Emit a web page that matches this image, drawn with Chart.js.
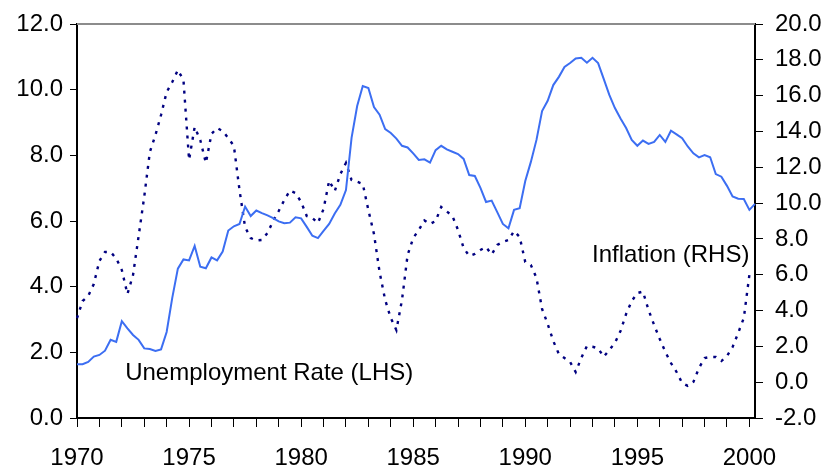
<!DOCTYPE html>
<html><head><meta charset="utf-8">
<script src="https://cdn.jsdelivr.net/npm/chart.js@4"></script>
<style>html,body{margin:0;padding:0;background:#fff}canvas{display:block}</style>
</head><body>
<canvas id="c" width="821" height="466"></canvas>
<script>
// Quarterly categories 1970Q1 .. 2000Q2
const quarters = [];
for (let y = 1970; y <= 2000; y++) for (let q = 1; q <= 4; q++) { if (y === 2000 && q > 2) break; quarters.push(y + 'Q' + q); }

const unemployment = [
1.64,1.64,1.71,1.87,1.92,2.05,2.38,2.32,2.95,2.73,
2.53,2.38,2.12,2.10,2.04,2.09,2.62,3.66,4.55,4.83,
4.80,5.24,4.61,4.56,4.89,4.80,5.07,5.71,5.84,5.91,
6.44,6.15,6.32,6.24,6.17,6.09,5.99,5.93,5.95,6.11,
6.08,5.82,5.55,5.48,5.70,5.91,6.23,6.49,6.94,8.53,
9.50,10.11,10.05,9.47,9.24,8.80,8.68,8.51,8.29,8.24,
8.06,7.86,7.88,7.78,8.16,8.29,8.18,8.11,8.04,7.89,
7.40,7.37,7.01,6.58,6.62,6.27,5.91,5.78,6.34,6.39,
7.22,7.80,8.47,9.35,9.66,10.14,10.39,10.69,10.81,10.95,
10.97,10.82,10.97,10.81,10.33,9.84,9.44,9.12,8.83,8.47,
8.29,8.45,8.35,8.41,8.62,8.41,8.75,8.64,8.52,8.27,
8.06,7.94,8.01,7.94,7.43,7.35,7.07,6.75,6.68,6.67,
6.34,6.52];

const inflation = [
3.57,4.53,4.81,5.48,6.77,7.27,7.27,6.91,6.26,4.92,
5.98,8.16,10.36,12.85,13.80,14.92,16.20,16.76,17.43,16.87,
12.41,14.25,13.52,12.24,13.86,14.19,14.02,13.63,13.19,10.73,
8.66,8.05,7.91,7.94,8.33,9.00,9.56,10.17,10.70,10.56,
10.06,9.28,9.17,8.89,9.67,11.25,10.67,11.62,12.24,11.29,
11.19,11.07,9.61,8.27,6.15,4.59,3.58,2.91,4.59,7.10,
8.05,8.50,9.03,8.83,9.00,9.78,9.53,9.28,8.50,7.49,
7.05,7.16,7.38,7.55,7.13,7.66,7.83,7.94,8.44,8.11,
6.71,6.54,5.82,4.09,3.25,2.30,1.57,1.35,1.13,0.57,
1.35,2.02,1.98,1.89,1.42,1.80,2.19,2.86,3.81,4.53,
4.98,5.06,4.03,3.19,2.41,1.69,1.07,0.57,-0.05,-0.21,
0.01,0.79,1.35,1.41,1.41,1.18,1.46,1.96,2.75,3.58,
6.00,null];

const leftTicks = { min: 0, max: 12, step: 2 };
const rightTicks = { min: -2, max: 20, step: 2 };
const labelYears = [1970, 1975, 1980, 1985, 1990, 1995, 2000];

const FONT = { family: '"Liberation Sans", Arial, sans-serif', size: 24 };

const topBorder = {
  id: 'topBorder',
  afterDraw(chart) {
    const { ctx, chartArea: a } = chart;
    ctx.save();
    ctx.strokeStyle = '#8c8c8c';
    ctx.lineWidth = 2;
    ctx.beginPath(); ctx.moveTo(a.left, a.top); ctx.lineTo(a.right, a.top); ctx.stroke();
    ctx.restore();
  }
};
const annotations = {
  id: 'annotations',
  afterDatasetsDraw(chart) {
    const { ctx, scales } = chart;
    ctx.save();
    ctx.fillStyle = '#000';
    ctx.font = FONT.size + 'px ' + FONT.family;
    ctx.textBaseline = 'middle';
    ctx.textAlign = 'left';
    ctx.fillText('Unemployment Rate (LHS)', scales.x.getPixelForValue(8.6), scales.y.getPixelForValue(1.37));
    ctx.textAlign = 'right';
    ctx.fillText('Inflation (RHS)', scales.x.getPixelForValue(120), scales.y2.getPixelForValue(7.1));
    ctx.restore();
  }
};

function fixY(w) {
  return function (s) { s.width = w; s.paddingTop = 0; s.paddingBottom = 0; };
}

new Chart(document.getElementById('c'), {
  type: 'line',
  data: {
    labels: quarters,
    datasets: [
      { label: 'Unemployment Rate (LHS)', data: unemployment, yAxisID: 'y', borderColor: '#3c6ef2', borderWidth: 2, pointRadius: 0, tension: 0, fill: false },
      { label: 'Inflation (RHS)', data: inflation, yAxisID: 'y2', borderColor: '#000080', borderWidth: 2.4, borderDash: [3, 6], pointRadius: 0, tension: 0, fill: false }
    ]
  },
  options: {
    responsive: false,
    animation: false,
    devicePixelRatio: 1,
    layout: { padding: { top: 24, left: 0, right: 0, bottom: 0 }, autoPadding: false },
    plugins: { legend: { display: false }, tooltip: { enabled: false } },
    scales: {
      x: {
        type: 'category',
        offset: false,
        afterFit(s) { s.height = 48; s.paddingLeft = 0; s.paddingRight = 0; },
        border: { display: true, color: '#000', width: 2 },
        grid: {
          drawOnChartArea: false, drawTicks: true, tickLength: 9, tickWidth: 1,
          tickColor: (c) => (c.index % 4 === 0 ? '#000' : 'rgba(0,0,0,0)')
        },
        ticks: {
          autoSkip: false, maxRotation: 0, minRotation: 0, padding: 17,
          color: '#000', font: FONT,
          callback: function (v, i) {
            if (i % 4 !== 0) return '';
            const yr = 1970 + i / 4;
            return labelYears.includes(yr) ? String(yr) : '';
          }
        }
      },
      y: {
        position: 'left',
        min: leftTicks.min, max: leftTicks.max,
        afterFit: fixY(77),
        border: { display: true, color: '#000', width: 2 },
        grid: { drawOnChartArea: false, drawTicks: true, tickLength: 7, tickColor: '#000' },
        ticks: { stepSize: leftTicks.step, padding: 7, color: '#000', font: FONT, callback: (v) => Number(v).toFixed(1) }
      },
      y2: {
        position: 'right',
        min: rightTicks.min, max: rightTicks.max,
        afterFit: fixY(66),
        border: { display: true, color: '#000', width: 2 },
        grid: { drawOnChartArea: false, drawTicks: true, tickLength: 8, tickColor: '#000' },
        ticks: { stepSize: rightTicks.step, padding: 12, color: '#000', font: FONT, callback: (v) => Number(v).toFixed(1) }
      }
    }
  },
  plugins: [topBorder, annotations]
});
</script>
</body></html>
